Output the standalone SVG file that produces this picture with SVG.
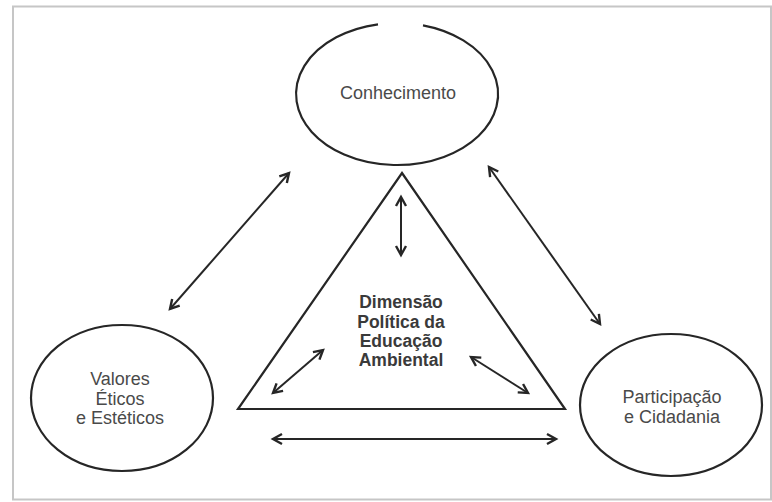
<svg xmlns="http://www.w3.org/2000/svg" width="772" height="502" viewBox="0 0 772 502">
  <style>
    .shape { fill: none; stroke: #262626; stroke-width: 2.2; }
    .conn { fill: none; stroke: #262626; stroke-width: 2; }
    .lbl { font-family: "Liberation Sans", Arial, sans-serif; font-size: 18px; fill: #4a4a4a; text-anchor: middle; }
    .bold { font-family: "Liberation Sans", Arial, sans-serif; font-size: 17.5px; font-weight: bold; fill: #3a3a3a; text-anchor: middle; }
  </style>
  <defs>
    <marker id="ah" markerUnits="userSpaceOnUse" markerWidth="14" markerHeight="14" viewBox="0 0 14 14" refX="11" refY="7" orient="auto-start-reverse">
      <path d="M2,2 L11,7 L2,12" fill="none" stroke="#262626" stroke-width="2.4" stroke-linejoin="miter"/>
    </marker>
  </defs>
  <rect x="0" y="0" width="772" height="502" fill="#ffffff"/>
  <rect id="frame" x="13" y="6.5" width="758" height="493" fill="#ffffff" stroke="#c6c6c6" stroke-width="2"/>

  <g id="node-conhecimento">
    <path class="shape" d="M423,25.4 A101,71 0 1 1 378,24.3"/>
    <text class="lbl" x="398" y="99">Conhecimento</text>
  </g>

  <g id="node-dimensao">
    <polygon class="shape" points="402,173 565,409 238,409"/>
    <text class="bold" x="401" y="308">Dimensão</text>
    <text class="bold" x="401" y="328">Política da</text>
    <text class="bold" x="401" y="347">Educação</text>
    <text class="bold" x="401" y="366">Ambiental</text>
  </g>

  <g id="node-valores">
    <ellipse class="shape" cx="122" cy="398" rx="91" ry="73"/>
    <text class="lbl" x="120" y="385">Valores</text>
    <text class="lbl" x="120" y="405">Éticos</text>
    <text class="lbl" x="120" y="424">e Estéticos</text>
  </g>

  <g id="node-participacao">
    <ellipse class="shape" cx="671" cy="405" rx="91" ry="71"/>
    <text class="lbl" x="672" y="403">Participação</text>
    <text class="lbl" x="672" y="423">e Cidadania</text>
  </g>

  <g id="connectors">
    <line class="conn" x1="170" y1="309" x2="289" y2="173" marker-start="url(#ah)" marker-end="url(#ah)"/>
    <line class="conn" x1="489" y1="167" x2="600" y2="324" marker-start="url(#ah)" marker-end="url(#ah)"/>
    <line class="conn" x1="401" y1="197" x2="401" y2="255" marker-start="url(#ah)" marker-end="url(#ah)"/>
    <line class="conn" x1="323" y1="350" x2="273" y2="393" marker-start="url(#ah)" marker-end="url(#ah)"/>
    <line class="conn" x1="471" y1="357" x2="528" y2="393" marker-start="url(#ah)" marker-end="url(#ah)"/>
    <line class="conn" x1="273" y1="439" x2="556" y2="439" marker-start="url(#ah)" marker-end="url(#ah)"/>
  </g>
</svg>
